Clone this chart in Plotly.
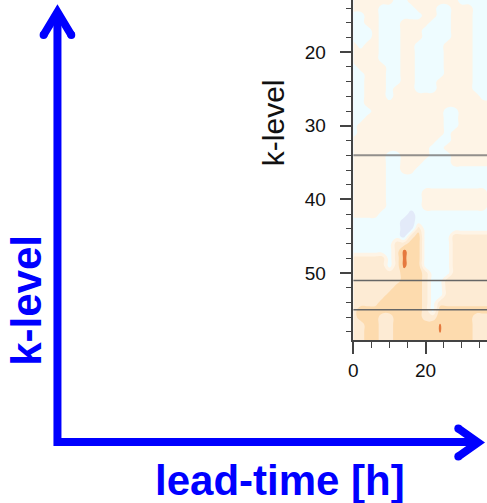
import plotly.graph_objects as go

# Grid of the contoured field: lead time [h] along x, model level along y
lead_time = [0, 2, 4, 6, 8, 10, 12, 14, 16, 18, 20, 22, 24, 26, 28, 30, 32, 34, 36, 38]
k_levels = list(range(12, 61))

# Field classes per grid cell, one string per k-level (top to bottom),
# grouped in blocks of five lead times.
# L = strong negative, c = weak negative, w = weak positive,
# p = moderate positive, o = strong positive, s/r = peak values
field_rows = [
    "wwwww wccww wwwww ccccc",  # 12
    "wwwww wccww wwwww ccccc",  # 13
    "wwwwc ccccw wwccw wwccc",  # 14
    "ccwwc ccccc wwccw wwccc",  # 15
    "ccwwc ccwww wcccw wwccc",  # 16
    "cccwc ccwww ccccw wwccc",  # 17
    "cccwc ccwww ccccw wwccc",  # 18
    "wcwwc ccwwc cccww wwccc",  # 19
    "wwwwc ccwwc cccww wwccc",  # 20
    "wwwwc ccwwc cccww wwccc",  # 21
    "cwwww ccwwc cccww wwccc",  # 22
    "ccwww ccwwc cccww wwccc",  # 23
    "ccwww ccwwc ccwww wwccc",  # 24
    "ccwww cwwwc ccwww wwccc",  # 25
    "ccwww cwwww wwwww wwwcc",  # 26
    "ccwww wwwww wwwww wwwww",  # 27
    "cccww wwwww wwwcc wwwww",  # 28
    "ccwww wwwww wwwcc wwwww",  # 29
    "cwwww wwwww wwwcc wwwww",  # 30
    "cwwww wwwww wwwcw wwwww",  # 31
    "wwwww wwwww wwccw wwwww",  # 32
    "wwwww wwwww wccww wwwww",  # 33
    "wwwww ccwww wcccw wwwww",  # 34
    "wwwww ccwww ccccw wwwww",  # 35
    "wwwww ccwwc ccccc ccccc",  # 36
    "wwwww ccccc ccccc ccccc",  # 37
    "wwwww ccccc ccccc ccccc",  # 38
    "wwwww ccccc wwwww wwwwc",  # 39
    "wwwww ccccc wwwww wwwwc",  # 40
    "wwwww ccccc wwwww wwwwc",  # 41
    "wwwwc cccLc ccccc ccccc",  # 42
    "ccccc ccLLc ccccc ccccc",  # 43
    "ccccc ccLLp ccccc ccccc",  # 44
    "ccccc ccLpo ccccp ppppp",  # 45
    "ccccc cppoo ccccp ppppp",  # 46
    "ccccc cproo ccccp ppppp",  # 47
    "ppppp cproo ccccp ppppp",  # 48
    "ppppp cproo ccccp ppppp",  # 49
    "ppppp ppooo pcccp ppppp",  # 50
    "ppppp ppooo pccpp ppppp",  # 51
    "ppppp poooo pccpp ppppp",  # 52
    "ppppp ooooo pccpp ppppp",  # 53
    "ppppo ooooo pcppp ppppp",  # 54
    "poooo ooooo pcooo ooooo",  # 55
    "pooop poooo ppooo ooppp",  # 56
    "ppoop poooo oosoo ooppp",  # 57
    "ppoop poooo oosoo ooppp",  # 58
    "ppoop poooo ooooo ooppp",  # 59
    "ppoop poooo ooooo ooppp",  # 60
]

class_value = {"L": 0.0, "c": 1.0, "w": 2.0, "p": 3.0, "o": 4.0, "s": 4.56, "r": 4.75}
class_colors = ["#e3eaf9", "#eefcff", "#fef4e6", "#fdebd4", "#fddbae", "#e5793e"]

# Reference model levels marked with horizontal lines
marked_levels = [34, 51, 55]
marked_colors = ["rgba(110,110,110,0.75)", "#666666", "#666666"]
marked_widths = [2, 1.5, 1.5]

x_range = [0, 37]
y_range = [59.1, 12.9]

W, H = 487, 503


def px(x):
    return x / W


def py(y):
    return 1 - y / H


rows = [r.replace(" ", "") for r in field_rows]
assert len(rows) == len(k_levels)
assert all(len(r) == len(lead_time) for r in rows)
z = [[class_value[ch] for ch in row] for row in rows]
n = len(class_colors) - 1
colorscale = [[i / n, col] for i, col in enumerate(class_colors)]

fig = go.Figure()
fig.add_trace(go.Contour(
    x=lead_time, y=k_levels, z=z,
    autocontour=False,
    contours=dict(start=0.5, end=4.5, size=1, coloring="fill", showlines=False),
    colorscale=colorscale,
    line=dict(width=0, smoothing=1.3),
    showscale=False,
    hoverinfo="skip",
))

shapes = []
for lev, col, wid in zip(marked_levels, marked_colors, marked_widths):
    shapes.append(dict(type="line", xref="x domain", yref="y", x0=0, x1=1, y0=lev, y1=lev,
                       line=dict(color=col, width=wid), layer="above"))

# Schematic axis arrows
blue = "#0000ff"
arrow_w = 8


def path(points):
    return "M " + " L ".join(f"{px(a):.5f},{py(b):.5f}" for a, b in points)


shapes.append(dict(type="path", xref="paper", yref="paper",
                   path=path([(53, 12), (53, 442), (478, 442)]),
                   line=dict(color=blue, width=arrow_w)))
shapes.append(dict(type="path", xref="paper", yref="paper",
                   path=path([(39, 35), (53, 12), (67, 35)]),
                   line=dict(color=blue, width=arrow_w)))
shapes.append(dict(type="path", xref="paper", yref="paper",
                   path=path([(458, 428.5), (478, 442.5), (458, 456.5)]),
                   line=dict(color=blue, width=arrow_w)))
for cx, cy in [(39, 35), (67, 35), (458, 428.5), (458, 456.5)]:
    r = arrow_w / 2
    shapes.append(dict(type="circle", xref="paper", yref="paper",
                       x0=px(cx - r), x1=px(cx + r), y0=py(cy + r), y1=py(cy - r),
                       fillcolor=blue, line=dict(width=0)))

font_main = "Liberation Sans, Arial, Helvetica, sans-serif"
annotations = [
    dict(text="<b>k-level</b>", xref="paper", yref="paper", x=px(21), y=py(300),
         xanchor="center", yanchor="middle", textangle=-90, showarrow=False,
         font=dict(family=font_main, size=42, color=blue)),
    dict(text="<b>lead-time [h]</b>", xref="paper", yref="paper", x=px(278), y=py(480),
         xanchor="center", yanchor="middle", showarrow=False,
         font=dict(family=font_main, size=42, color=blue)),
    dict(text="k-level", xref="paper", yref="paper", x=px(271.5), y=py(122.5),
         xanchor="center", yanchor="middle", textangle=-90, showarrow=False,
         font=dict(family=font_main, size=30, color="#111111")),
]

axis_col = "#444444"
fig.update_layout(
    width=W, height=H,
    margin=dict(l=0, r=0, t=0, b=0),
    paper_bgcolor="white", plot_bgcolor="white",
    showlegend=False,
    shapes=shapes,
    annotations=annotations,
    xaxis=dict(
        domain=[px(352), 1], range=x_range, dtick=20, tick0=0,
        ticks="outside", ticklen=12, tickwidth=1.5, tickcolor=axis_col,
        showline=True, linecolor=axis_col, linewidth=1.5,
        showgrid=False, zeroline=False,
        tickfont=dict(family=font_main, size=19, color="#111111"),
        ticklabelstandoff=0,
        minor=dict(dtick=5, tick0=0, ticks="outside", ticklen=6, tickwidth=1.2,
                   tickcolor=axis_col, showgrid=False),
    ),
    yaxis=dict(
        domain=[py(340), 1], range=y_range, dtick=10, tick0=0,
        ticks="outside", ticklen=12, tickwidth=1.5, tickcolor=axis_col,
        showline=True, linecolor=axis_col, linewidth=1.5,
        showgrid=False, zeroline=False,
        tickfont=dict(family=font_main, size=19, color="#111111"),
        ticklabelstandoff=10,
        minor=dict(dtick=2, tick0=0, ticks="outside", ticklen=6, tickwidth=1.2,
                   tickcolor=axis_col, showgrid=False),
    ),
)

fig.write_html("out.html")
